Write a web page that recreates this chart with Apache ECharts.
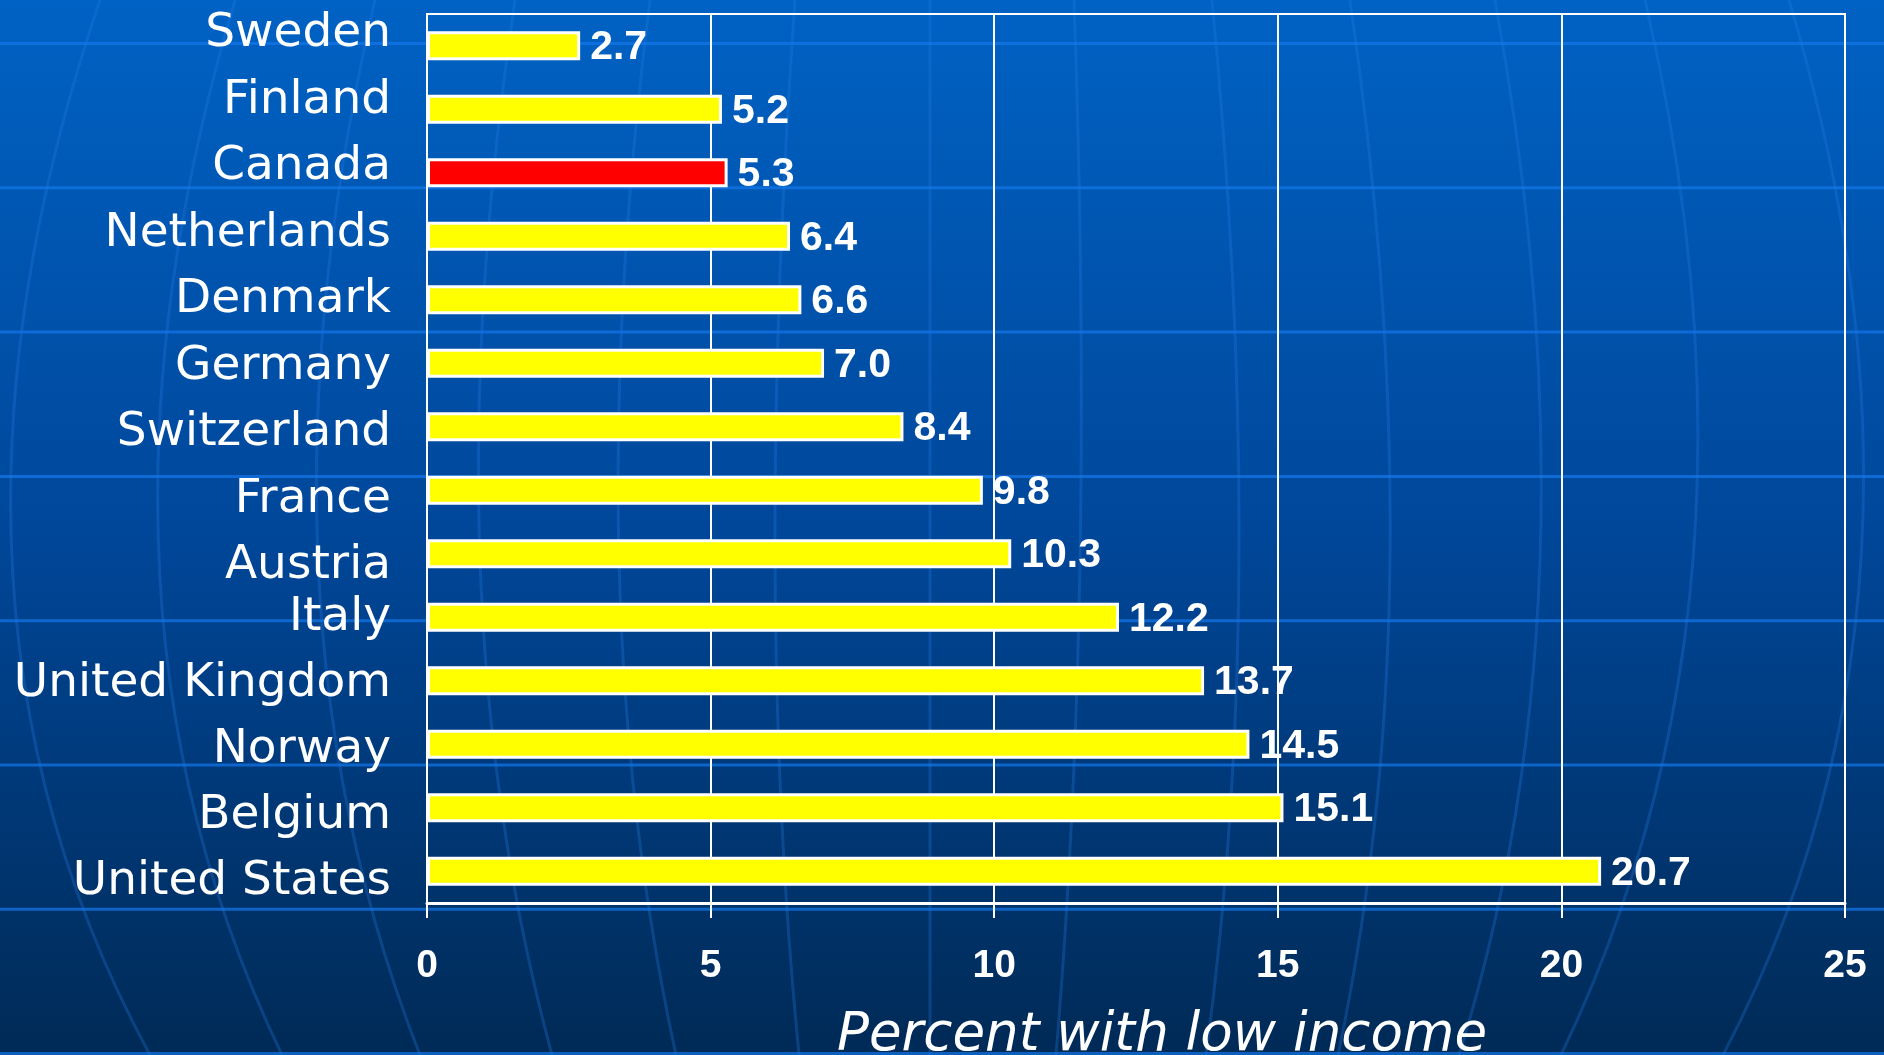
<!DOCTYPE html>
<html>
<head>
<meta charset="utf-8">
<title>Percent with low income</title>
<script src="https://cdn.jsdelivr.net/npm/echarts@6/dist/echarts.min.js"></script>
<style>
  html, body { margin: 0; padding: 0; background: #00418a; }
  #chart { width: 1884px; height: 1055px; }
</style>
</head>
<body>
<div id="chart"></div>
<script>
// Share of population with low income, by country
const countries = ['Sweden', 'Finland', 'Canada', 'Netherlands', 'Denmark', 'Germany', 'Switzerland',
  'France', 'Austria', 'Italy', 'United Kingdom', 'Norway', 'Belgium', 'United States'];
const lowIncomePct = [2.7, 5.2, 5.3, 6.4, 6.6, 7.0, 8.4, 9.8, 10.3, 12.2, 13.7, 14.5, 15.1, 20.7];
const highlighted = 'Canada';
const axisMin = 0;
const axisMax = 25;
const axisStep = 5;
const axisTitle = 'Percent with low income';

// Country names are set in two blocks (Italy sits close under Austria)
const upperNames = countries.slice(0, 9);
const lowerNames = countries.slice(9);

const W = 1884, H = 1055;
const chart = echarts.init(document.getElementById('chart'), null, { renderer: 'canvas', width: W, height: H });

// Slide backdrop: blue gradient, faint latitude bands and globe meridians
const backdrop = [{
  type: 'rect', z: -20, silent: true,
  shape: { x: 0, y: 0, width: W, height: H },
  style: {
    fill: new echarts.graphic.LinearGradient(0, 0, 0, 1, [
      { offset: 0, color: '#0062C4' },
      { offset: 0.5, color: '#00479A' },
      { offset: 1, color: '#002A56' }
    ])
  }
}];
for (let k = 0; k < 8; k++) {
  const y = 43.5 + 144.3 * k;
  backdrop.push({
    type: 'line', z: -15, silent: true,
    shape: { x1: 0, y1: y, x2: W, y2: y },
    style: { stroke: 'rgba(20,120,235,0.7)', lineWidth: 3 }
  });
}
const meridianTop = [100, 235, 375, 515, 650, 795, 930, 1074, 1212, 1350, 1495, 1645, 1789];
const meridianMid = [12, 159, 318, 480, 619, 775, 929, 1080, 1239, 1390, 1540, 1693, 1861];
const meridianBot = [150, 282, 420, 552, 676, 799, 930, 1056, 1206, 1338, 1459, 1561, 1723];
for (let i = 0; i < meridianTop.length; i++) {
  const x0 = meridianTop[i], xm = meridianMid[i], x2 = meridianBot[i];
  backdrop.push({
    type: 'bezierCurve', z: -16, silent: true,
    shape: { x1: x0, y1: 0, x2: x2, y2: H, cpx1: 2 * xm - (x0 + x2) / 2, cpy1: 2 * 560 - H / 2 },
    style: { stroke: 'rgba(40,125,235,0.28)', lineWidth: 3, fill: null }
  });
}

const nameLabel = {
  show: true,
  color: '#FFFFFF',
  fontFamily: 'DejaVu Sans',
  fontSize: 47,
  margin: 36,
  align: 'right',
  verticalAlign: 'middle'
};

const option = {
  backgroundColor: 'transparent',
  animation: false,
  graphic: backdrop,
  grid: [
    { left: 427, right: 39, top: 14, bottom: 152, show: true, borderColor: '#FFFFFF', borderWidth: 2,
      backgroundColor: 'transparent', outerBoundsMode: 'none' },
    { left: 427, right: 39, top: 33.8, height: 8 * 66.5, outerBoundsMode: 'none' },
    { left: 427, right: 39, top: 617.3, height: 4 * 66.2, outerBoundsMode: 'none' }
  ],
  xAxis: [
    {
      gridIndex: 0,
      type: 'value',
      min: axisMin, max: axisMax, interval: axisStep,
      axisLine: { show: true, lineStyle: { color: '#FFFFFF', width: 3 } },
      axisTick: { show: true, length: 15, lineStyle: { color: '#FFFFFF', width: 2 } },
      splitLine: { show: true, lineStyle: { color: '#FFFFFF', width: 2 } },
      axisLabel: {
        color: '#FFFFFF', fontFamily: 'Liberation Sans', fontWeight: 'bold', fontSize: 39,
        lineHeight: 40, margin: 43
      },
      name: axisTitle,
      nameLocation: 'middle',
      nameGap: 106,
      nameTextStyle: {
        color: '#FFFFFF', fontFamily: 'DejaVu Sans', fontStyle: 'italic', fontSize: 53,
        lineHeight: 54, padding: [0, 0, 0, 52]
      }
    },
    { gridIndex: 1, type: 'value', show: false },
    { gridIndex: 2, type: 'value', show: false }
  ],
  yAxis: [
    {
      gridIndex: 0,
      type: 'category',
      inverse: true,
      data: countries,
      axisLine: { show: true, lineStyle: { color: '#FFFFFF', width: 2 } },
      axisTick: { show: false },
      axisLabel: { show: false },
      splitLine: { show: false }
    },
    {
      gridIndex: 1, type: 'category', inverse: true, boundaryGap: false, data: upperNames,
      axisLine: { show: false }, axisTick: { show: false }, splitLine: { show: false },
      axisLabel: nameLabel
    },
    {
      gridIndex: 2, type: 'category', inverse: true, boundaryGap: false, data: lowerNames,
      axisLine: { show: false }, axisTick: { show: false }, splitLine: { show: false },
      axisLabel: nameLabel
    }
  ],
  series: [{
    type: 'bar',
    xAxisIndex: 0,
    yAxisIndex: 0,
    data: lowIncomePct,
    barWidth: 29,
    itemStyle: {
      color: p => (countries[p.dataIndex] === highlighted ? '#FF0000' : '#FFFF00'),
      borderColor: '#FFFFFF',
      borderWidth: 3
    },
    label: {
      show: true,
      position: 'right',
      distance: 10,
      offset: [0, 2],
      color: '#FFFFFF',
      fontFamily: 'Liberation Sans',
      fontWeight: 'bold',
      fontSize: 41,
      formatter: p => p.value.toFixed(1)
    }
  }]
};

chart.setOption(option);
</script>
</body>
</html>
